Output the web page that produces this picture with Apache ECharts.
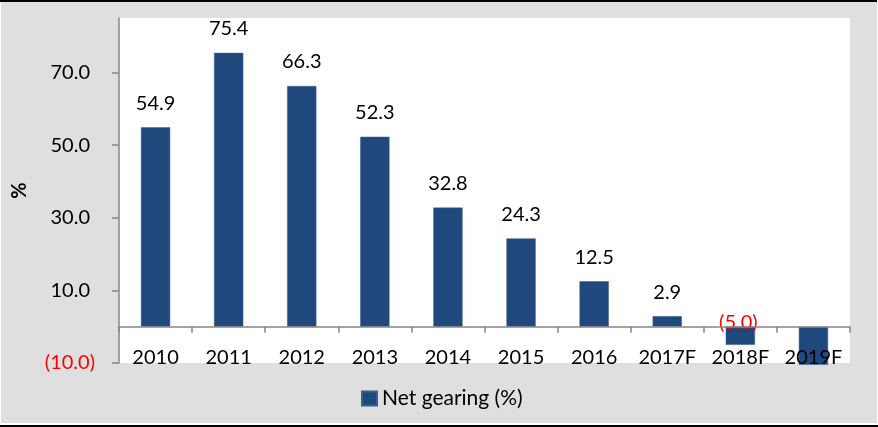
<!DOCTYPE html>
<html>
<head>
<meta charset="utf-8">
<script src="https://cdn.jsdelivr.net/npm/echarts@6/dist/echarts.min.js"></script>
<style>
html,body{margin:0;padding:0;background:#fff;}
#chart{width:878px;height:427px;}
</style>
</head>
<body>
<div id="chart"></div>
<script>
const categories = ['2010','2011','2012','2013','2014','2015','2016','2017F','2018F','2019F'];
const netGearing = [54.9, 75.4, 66.3, 52.3, 32.8, 24.3, 12.5, 2.9, -5.0, -10.5];
const yTicks = [-10, 10, 30, 50, 70];
const seriesName = 'Net gearing (%)';

const FONT = 'Lato, "Open Sans", sans-serif';
function fmt(v) {
  return v < 0 ? '(' + Math.abs(v).toFixed(1) + ')' : v.toFixed(1);
}

const chart = echarts.init(document.getElementById('chart'), null, {renderer: 'canvas'});

const data = netGearing.map((v, i) => {
  const item = {value: v};
  if (i === categories.length - 1) {
    item.label = {show: false};
  } else if (v < 0) {
    item.label = {position: 'top', distance: 0, offset: [-2, 6], color: '#ff0000'};
  }
  return item;
});

chart.setOption({
  animation: false,
  graphic: [
    {type: 'rect', z: -10, shape: {x: 1, y: 2, width: 876, height: 421}, style: {fill: '#dfdfdf'}},
    {type: 'rect', z: -10, shape: {x: 0, y: 0, width: 877, height: 2}, style: {fill: '#000'}},
    {type: 'rect', z: -10, shape: {x: 0, y: 425, width: 878, height: 2}, style: {fill: '#000'}}
  ],
  grid: {
    left: 119, right: 28, top: 18, bottom: 64,
    containLabel: false,
    outerBoundsMode: 'none',
    show: true, backgroundColor: '#ffffff', borderWidth: 0
  },
  legend: {
    data: [seriesName],
    left: 356, top: 383,
    icon: 'rect', itemWidth: 15, itemHeight: 14,
    textStyle: {fontFamily: FONT, fontSize: 21, color: '#000'}
  },
  xAxis: {
    type: 'category',
    data: categories,
    z: 5,
    axisLine: {show: true, onZero: true, lineStyle: {color: '#868686', width: 1.5}},
    axisTick: {show: true, length: 6, lineStyle: {color: '#868686', width: 1.5}},
    axisLabel: {fontFamily: FONT, fontSize: 20, color: '#000', margin: -15, interval: 0},
    splitLine: {show: false}
  },
  yAxis: {
    type: 'value',
    min: -10, max: 85,
    name: '%',
    nameLocation: 'middle',
    nameGap: 89,
    nameRotate: 90,
    nameTextStyle: {fontFamily: FONT, fontSize: 20, fontWeight: 'bold', color: '#000'},
    axisLine: {show: true, lineStyle: {color: '#868686', width: 1.5}},
    axisTick: {show: true, length: 7, customValues: yTicks, lineStyle: {color: '#868686', width: 1.5}},
    axisLabel: {
      customValues: yTicks,
      margin: 24,
      fontFamily: FONT, fontSize: 20, color: '#000',
      formatter: function (v) {
        return v < 0 ? '{n|' + fmt(v) + '}' : '{p|' + fmt(v) + '}';
      },
      rich: {
        n: {color: '#ff0000', fontFamily: FONT, fontSize: 20},
        p: {color: '#000', fontFamily: FONT, fontSize: 20, padding: [0, 5, 0, 0]}
      }
    },
    splitLine: {show: false}
  },
  series: [{
    name: seriesName,
    type: 'bar',
    data: data,
    barWidth: '40%',
    clip: false,
    itemStyle: {color: '#1f497d', borderColor: '#3a5f8f', borderWidth: 0.5},
    label: {
      show: true,
      position: 'top',
      distance: 14,
      fontFamily: FONT, fontSize: 20, color: '#000',
      formatter: function (p) { return fmt(p.value); }
    }
  }]
});
</script>
</body>
</html>
